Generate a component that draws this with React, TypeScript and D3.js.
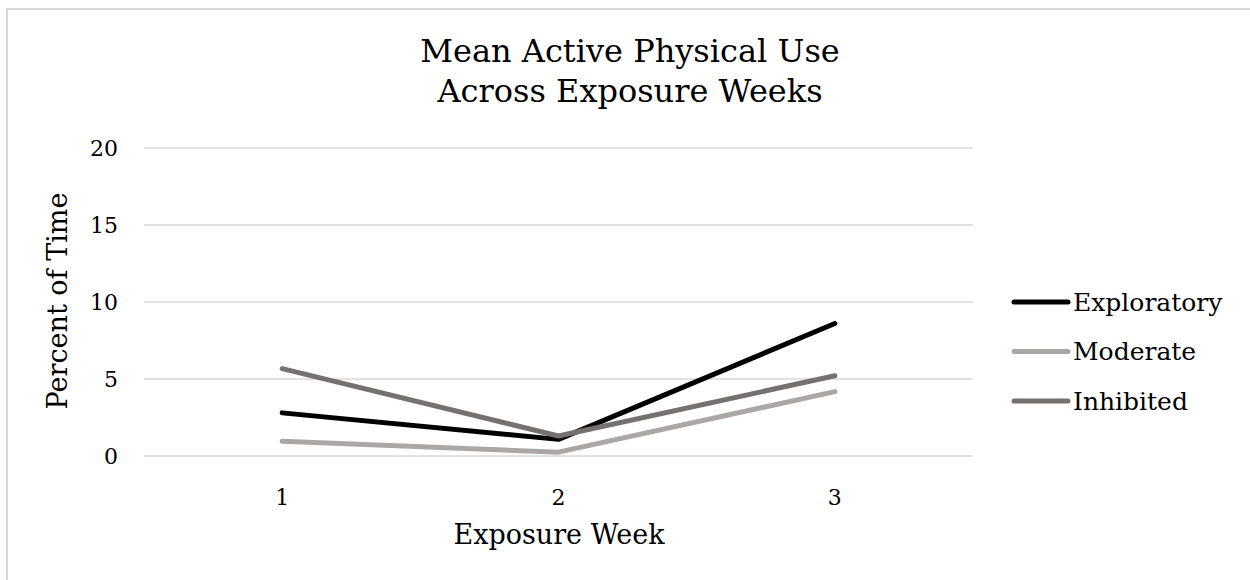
import React from "react";
import * as d3 from "d3";

const weeks = ["1", "2", "3"];
const exploratory = [2.8, 1.08, 8.6];
const moderate = [0.95, 0.25, 4.18];
const inhibited = [5.67, 1.3, 5.21];
const yTicks = [0, 5, 10, 15, 20];
const seriesNames = ["Exploratory", "Moderate", "Inhibited"];
const seriesColors = ["#000000", "#aba7a7", "#767171"];
const titleLines = ["Mean Active Physical Use", "Across Exposure Weeks"];

const FONT = "'DejaVu Serif', Georgia, serif";

export default function App() {
  const W = 1250, H = 580;
  const plotLeft = 144, plotRight = 973, plotTop = 148, plotBottom = 456;
  const x = d3.scaleBand<string>().domain(weeks).range([plotLeft, plotRight]);
  const y = d3.scaleLinear().domain([0, 20]).range([plotBottom, plotTop]);
  const series = [exploratory, moderate, inhibited];
  const line = d3
    .line<number>()
    .x((_, i) => (x(weeks[i]) as number) + x.bandwidth() / 2)
    .y((d) => y(d));

  return (
    <svg
      width={W}
      height={H}
      style={{ position: "absolute", left: 0, top: 0, background: "#fff" }}
      fontFamily={FONT}
    >
      <rect x={7} y={9} width={1300} height={640} fill="#fff" stroke="#d9d9d9" strokeWidth={2} />
      {titleLines.map((t, i) => (
        <text key={t} x={630} y={62 + i * 40} textAnchor="middle" fontSize={32} fill="#000">
          {t}
        </text>
      ))}
      {yTicks.map((t) => (
        <g key={t}>
          <line x1={plotLeft} x2={plotRight} y1={y(t)} y2={y(t)} stroke="#d9d9d9" strokeWidth={1.5} />
          <text x={118} y={y(t)} dy="0.35em" textAnchor="end" fontSize={22} fill="#000">
            {t}
          </text>
        </g>
      ))}
      {weeks.map((w) => (
        <text
          key={w}
          x={(x(w) as number) + x.bandwidth() / 2}
          y={497}
          dy="0.35em"
          textAnchor="middle"
          fontSize={22}
          fill="#000"
        >
          {w}
        </text>
      ))}
      <text x={559} y={535} dy="0.35em" textAnchor="middle" fontSize={27} fill="#000">
        Exposure Week
      </text>
      <text
        transform={`translate(58,301) rotate(-90)`}
        dy="0.35em"
        textAnchor="middle"
        fontSize={27}
        fill="#000"
      >
        Percent of Time
      </text>
      {series.map((s, i) => (
        <path
          key={seriesNames[i]}
          d={line(s) as string}
          fill="none"
          stroke={seriesColors[i]}
          strokeWidth={5}
          strokeLinecap="round"
          strokeLinejoin="round"
        />
      ))}
      {seriesNames.map((n, i) => (
        <g key={n}>
          <line
            x1={1014}
            x2={1068}
            y1={302 + i * 49.5}
            y2={302 + i * 49.5}
            stroke={seriesColors[i]}
            strokeWidth={5}
            strokeLinecap="round"
          />
          <text x={1073} y={302 + i * 49.5} dy="0.35em" fontSize={25} fill="#000">
            {n}
          </text>
        </g>
      ))}
    </svg>
  );
}
